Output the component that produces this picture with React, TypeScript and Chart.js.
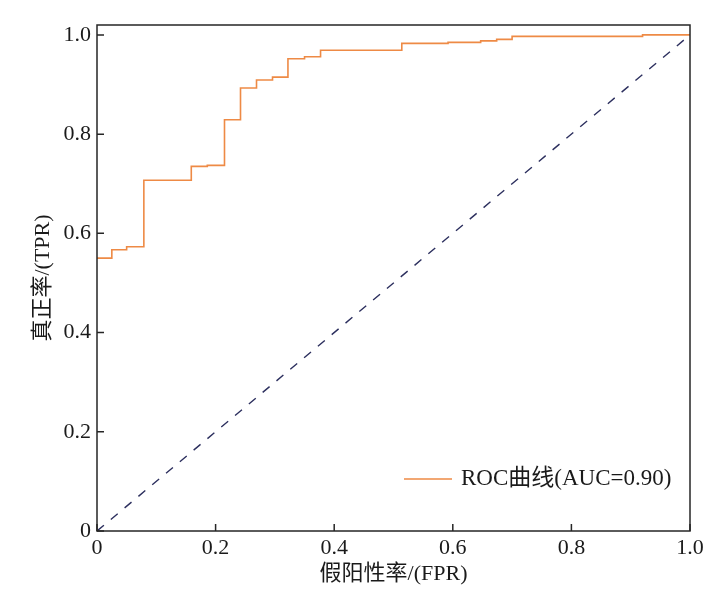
import React, { useEffect, useRef } from "react";
import { Chart, registerables } from "chart.js";

Chart.register(...registerables);

const fprValues = [0, 0.025, 0.05, 0.079, 0.159, 0.186, 0.215, 0.242, 0.269, 0.296, 0.322, 0.35, 0.377, 0.514, 0.592, 0.647, 0.674, 0.7, 0.92, 1.0];
const tprValues = [0.55, 0.567, 0.573, 0.707, 0.735, 0.737, 0.829, 0.893, 0.909, 0.915, 0.952, 0.956, 0.969, 0.983, 0.985, 0.988, 0.991, 0.997, 1.0, 1.0];
const diagX = [0, 1];
const diagY = [0, 1];
const xTicks = [0, 0.2, 0.4, 0.6, 0.8, 1.0];
const yTicks = [0, 0.2, 0.4, 0.6, 0.8, 1.0];
const rocLabel = "ROC曲线(AUC=0.90)";
const xTitle = "假阳性率/(FPR)";
const yTitle = "真正率/(TPR)";

const FONT = "'Liberation Serif', 'Noto Sans CJK SC', serif";
const ORANGE = "#ee8a45";
const NAVY = "#2c2f5e";
const FRAME = "#262626";

const fmt = (v: number) => (v === 0 ? "0" : v.toFixed(1));

const framePlugin = {
  id: "frameTicks",
  afterDatasetsDraw(chart: any) {
    const { ctx, chartArea } = chart;
    const xs = chart.scales.x;
    const ys = chart.scales.y;
    ctx.save();
    ctx.strokeStyle = FRAME;
    ctx.lineWidth = 1.5;
    ctx.strokeRect(chartArea.left, chartArea.top, chartArea.right - chartArea.left, chartArea.bottom - chartArea.top);
    ctx.beginPath();
    xTicks.forEach((t) => {
      const px = xs.getPixelForValue(t);
      ctx.moveTo(px, chartArea.bottom);
      ctx.lineTo(px, chartArea.bottom - 7);
    });
    yTicks.forEach((t) => {
      const py = ys.getPixelForValue(t);
      ctx.moveTo(chartArea.left, py);
      ctx.lineTo(chartArea.left + 7, py);
    });
    ctx.stroke();
    ctx.restore();
  },
  afterDraw(chart: any) {
    const { ctx, chartArea } = chart;
    const ds = chart.data.datasets[0];
    const ly = chartArea.bottom - 52;
    const lx = chartArea.right - 286;
    ctx.save();
    ctx.strokeStyle = ds.borderColor;
    ctx.lineWidth = 1.5;
    ctx.beginPath();
    ctx.moveTo(lx, ly);
    ctx.lineTo(lx + 48, ly);
    ctx.stroke();
    ctx.fillStyle = "#1a1a1a";
    ctx.font = `23px ${FONT}`;
    ctx.textBaseline = "middle";
    ctx.textAlign = "left";
    ctx.fillText(ds.label, lx + 57, ly);
    ctx.restore();
  },
};

export default function App() {
  const ref = useRef<HTMLCanvasElement | null>(null);
  useEffect(() => {
    if (!ref.current) return;
    const chart = new Chart(ref.current, {
      type: "line",
      data: {
        datasets: [
          {
            label: rocLabel,
            data: fprValues.map((x, i) => ({ x, y: tprValues[i] })),
            borderColor: ORANGE,
            borderWidth: 1.6,
            stepped: "before",
            pointRadius: 0,
            fill: false,
          },
          {
            label: "diag",
            data: diagX.map((x, i) => ({ x, y: diagY[i] })),
            borderColor: NAVY,
            borderWidth: 1.4,
            borderDash: [9, 9],
            pointRadius: 0,
            fill: false,
          },
        ],
      },
      options: {
        animation: false,
        responsive: false,
        devicePixelRatio: 1,
        layout: { padding: { left: 0, right: 34, top: 25, bottom: 0 } },
        plugins: { legend: { display: false }, tooltip: { enabled: false } },
        scales: {
          x: {
            type: "linear",
            min: 0,
            max: 1,
            grid: { display: false },
            border: { display: false },
            afterBuildTicks: (s: any) => {
              s.ticks = xTicks.map((v) => ({ value: v }));
            },
            afterFit: (s: any) => {
              s.height = 66;
            },
            ticks: {
              padding: -4,
              color: "#1a1a1a",
              font: { family: FONT, size: 22 },
              maxRotation: 0,
              callback: (v: any) => fmt(Number(v)),
            },
            title: {
              display: true,
              text: xTitle,
              color: "#1a1a1a",
              font: { family: FONT, size: 22 },
              padding: { top: 0, bottom: 10 },
            },
          },
          y: {
            type: "linear",
            min: 0,
            max: 1.02,
            grid: { display: false },
            border: { display: false },
            afterBuildTicks: (s: any) => {
              s.ticks = yTicks.map((v) => ({ value: v }));
            },
            afterFit: (s: any) => {
              s.width = 97;
            },
            ticks: {
              padding: -2,
              color: "#1a1a1a",
              font: { family: FONT, size: 22 },
              callback: (v: any) => fmt(Number(v)),
            },
            title: {
              display: true,
              text: yTitle,
              color: "#1a1a1a",
              font: { family: FONT, size: 22 },
              padding: { top: 30, bottom: 0 },
            },
          },
        },
      },
      plugins: [framePlugin],
    } as any);
    return () => chart.destroy();
  }, []);
  return (
    <div style={{ position: "fixed", left: 0, top: 0, width: 724, height: 597, background: "#fff" }}>
      <canvas ref={ref} width={724} height={597} style={{ width: 724, height: 597, display: "block" }} />
    </div>
  );
}
